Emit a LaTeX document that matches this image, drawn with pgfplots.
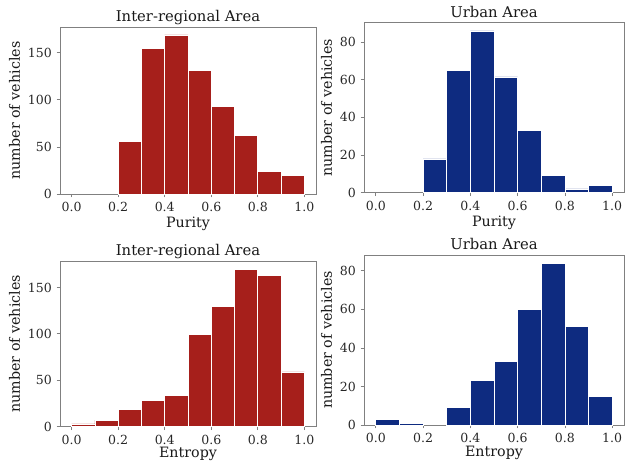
\documentclass[border=0pt]{standalone}
\usepackage{fontspec}
\setmainfont{DejaVu Serif}
\usepackage{pgfplots}
\pgfplotsset{compat=1.18}
\definecolor{barred}{RGB}{166,31,27}
\definecolor{barblue}{RGB}{14,43,128}
\definecolor{spine}{RGB}{128,128,128}
\pgfplotsset{
  hist/.style={
    scale only axis,
    anchor=south west,
    xmin=-0.05, xmax=1.05, ymin=0,
    axis line style={spine, line width=0.6pt},
    tick style={spine, line width=0.6pt},
    tick align=outside, major tick length=2.6pt,
    xtick pos=left, ytick pos=left,
    xtick={0,0.2,0.4,0.6,0.8,1.0},
    xticklabels={0.0,0.2,0.4,0.6,0.8,1.0},
    /pgf/number format/assume math mode=true,
    ticklabel style={font=\fontsize{9.4}{11}\selectfont, text=black!85},
    label style={font=\fontsize{10.7}{12}\selectfont, text=black!90},
    title style={font=\fontsize{11.1}{13}\selectfont, text=black!90, at={(0.5,1)}, anchor=base, yshift=-2.2pt},
    ylabel={number of vehicles},
    ylabel style={yshift=-1pt},
    xlabel style={yshift=3pt},
    scaled y ticks=false,
  },
  redbar/.style={ybar interval, fill=barred, draw=white, line width=0.5pt},
  bluebar/.style={ybar interval, fill=barblue, draw=white, line width=0.5pt},
}
\begin{document}
\begin{tikzpicture}
\useasboundingbox (0,0) rectangle (474pt,345.75pt);
% top-left
\begin{axis}[hist, at={(45pt,200.25pt)}, width=192pt, height=125.25pt,
  ymax=177.45, ytick={0,50,100,150},
  title={Inter-regional Area}, xlabel={Purity}]
\addplot[redbar] coordinates {(0.2,56) (0.3,155) (0.4,169) (0.5,131) (0.6,93) (0.7,62) (0.8,24) (0.9,20) (1.0,0)};
\end{axis}
% top-right
\begin{axis}[hist, at={(273pt,201.2pt)}, width=195pt, height=127.5pt,
  ymax=90.3, ytick={0,20,40,60,80},
  title={Urban Area}, xlabel={Purity}]
\addplot[bluebar] coordinates {(0.2,18) (0.3,65) (0.4,86) (0.5,61.5) (0.6,33) (0.7,9) (0.8,2) (0.9,4) (1.0,0)};
\end{axis}
% bottom-left
\begin{axis}[hist, at={(45pt,25.7pt)}, width=192pt, height=124.3pt,
  ymax=178.5, ytick={0,50,100,150},
  title={Inter-regional Area}, xlabel={Entropy}, xlabel style={yshift=2pt}]
\addplot[redbar] coordinates {(0.0,3) (0.1,7) (0.2,19) (0.3,28) (0.4,34) (0.5,99) (0.6,130) (0.7,169) (0.8,163) (0.9,59) (1.0,0)};
\end{axis}
% bottom-right
\begin{axis}[hist, at={(273pt,27pt)}, width=195pt, height=127.5pt,
  ymax=88.2, ytick={0,20,40,60,80},
  title={Urban Area}, xlabel={Entropy}, xlabel style={yshift=1pt}]
\addplot[bluebar] coordinates {(0.0,3) (0.1,1) (0.2,1)};
\addplot[bluebar] coordinates {(0.3,9) (0.4,23) (0.5,33) (0.6,60) (0.7,84) (0.8,51) (0.9,15) (1.0,0)};
\end{axis}
\end{tikzpicture}
\end{document}
